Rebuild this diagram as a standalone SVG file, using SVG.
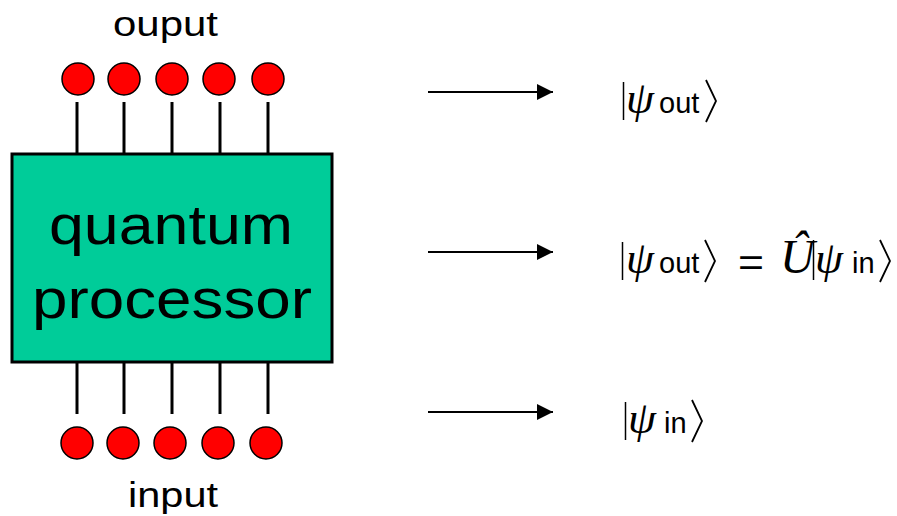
<svg xmlns="http://www.w3.org/2000/svg" width="897" height="516" viewBox="0 0 897 516">
<defs>
<style>
.lbl{font-family:"Liberation Sans",Arial,sans-serif;fill:#000}
.pin{stroke:#000;stroke-width:3}
.dot{fill:#ff0000;stroke:#000;stroke-width:1.5}
.arr{stroke:#000;stroke-width:2;fill:none}
.psi{font-family:"Liberation Serif","Times New Roman",serif;font-style:italic}
.m{font-family:"Liberation Sans",Arial,sans-serif}
.bar{stroke:#000;stroke-width:1.5}
.ket{fill:none;stroke:#000;stroke-width:1.8}
</style>
<marker id="ah" viewBox="0 0 10 10" refX="10" refY="5" markerWidth="8" markerHeight="8" markerUnits="strokeWidth" orient="auto">
<path d="M0,0 L10,5 L0,10 z" fill="#000"/>
</marker>
</defs>
<g id="processor">
<rect x="12" y="154" width="320" height="208" fill="#00cc99" stroke="#000" stroke-width="3"/>
<text class="lbl" x="49" y="244" font-size="56" textLength="244" lengthAdjust="spacingAndGlyphs">quantum</text>
<text class="lbl" x="32" y="318" font-size="56" textLength="280" lengthAdjust="spacingAndGlyphs">processor</text>
</g>
<g id="output-pins">
<line class="pin" x1="77" y1="102" x2="77" y2="154"/>
<line class="pin" x1="124" y1="102" x2="124" y2="154"/>
<line class="pin" x1="172" y1="102" x2="172" y2="154"/>
<line class="pin" x1="220" y1="102" x2="220" y2="154"/>
<line class="pin" x1="268" y1="102" x2="268" y2="154"/>
<circle class="dot" cx="78" cy="79" r="16"/>
<circle class="dot" cx="124" cy="79" r="16"/>
<circle class="dot" cx="172" cy="79" r="16"/>
<circle class="dot" cx="219" cy="79" r="16"/>
<circle class="dot" cx="268" cy="79" r="16"/>
<text class="lbl" x="113" y="36" font-size="35" textLength="105" lengthAdjust="spacingAndGlyphs">ouput</text>
</g>
<g id="input-pins">
<line class="pin" x1="77" y1="362" x2="77" y2="414"/>
<line class="pin" x1="124" y1="362" x2="124" y2="414"/>
<line class="pin" x1="172" y1="362" x2="172" y2="414"/>
<line class="pin" x1="220" y1="362" x2="220" y2="414"/>
<line class="pin" x1="268" y1="362" x2="268" y2="414"/>
<circle class="dot" cx="77" cy="443" r="16"/>
<circle class="dot" cx="123" cy="443" r="16"/>
<circle class="dot" cx="170" cy="443" r="16"/>
<circle class="dot" cx="218" cy="443" r="16"/>
<circle class="dot" cx="266" cy="443" r="16"/>
<text class="lbl" x="128" y="507" font-size="35" textLength="90" lengthAdjust="spacingAndGlyphs">input</text>
</g>
<g id="connectors">
<line class="arr" x1="428" y1="92" x2="553" y2="92" marker-end="url(#ah)"/>
<line class="arr" x1="428" y1="252" x2="553" y2="252" marker-end="url(#ah)"/>
<line class="arr" x1="428" y1="412" x2="553" y2="412" marker-end="url(#ah)"/>
</g>
<g id="state-out">
<line class="bar" x1="623.5" y1="82" x2="623.5" y2="120"/>
<text x="626" y="113" font-size="45" class="psi">ψ</text>
<text x="659" y="113" font-size="29" class="m">out</text>
<polyline class="ket" points="706,80 716,101 706,122"/>
</g>
<g id="state-eq">
<line class="bar" x1="622.5" y1="242" x2="622.5" y2="280"/>
<text x="626" y="273" font-size="45" class="psi">ψ</text>
<text x="659" y="273" font-size="29" class="m">out</text>
<polyline class="ket" points="705,240 715,261 705,282"/>
<text x="738" y="276" font-size="38" class="m" textLength="26" lengthAdjust="spacingAndGlyphs">=</text>
<text x="780" y="273" font-size="48" class="psi">Û</text>
<line class="bar" x1="813.5" y1="240" x2="813.5" y2="280"/>
<text x="815" y="273" font-size="45" class="psi">ψ</text>
<text x="852" y="273" font-size="29" class="m">in</text>
<polyline class="ket" points="880,240 890,261 880,282"/>
</g>
<g id="state-in">
<line class="bar" x1="625.5" y1="402" x2="625.5" y2="440"/>
<text x="628" y="433" font-size="45" class="psi">ψ</text>
<text x="664" y="433" font-size="29" class="m">in</text>
<polyline class="ket" points="692,400 702,421 692,442"/>
</g>
</svg>
